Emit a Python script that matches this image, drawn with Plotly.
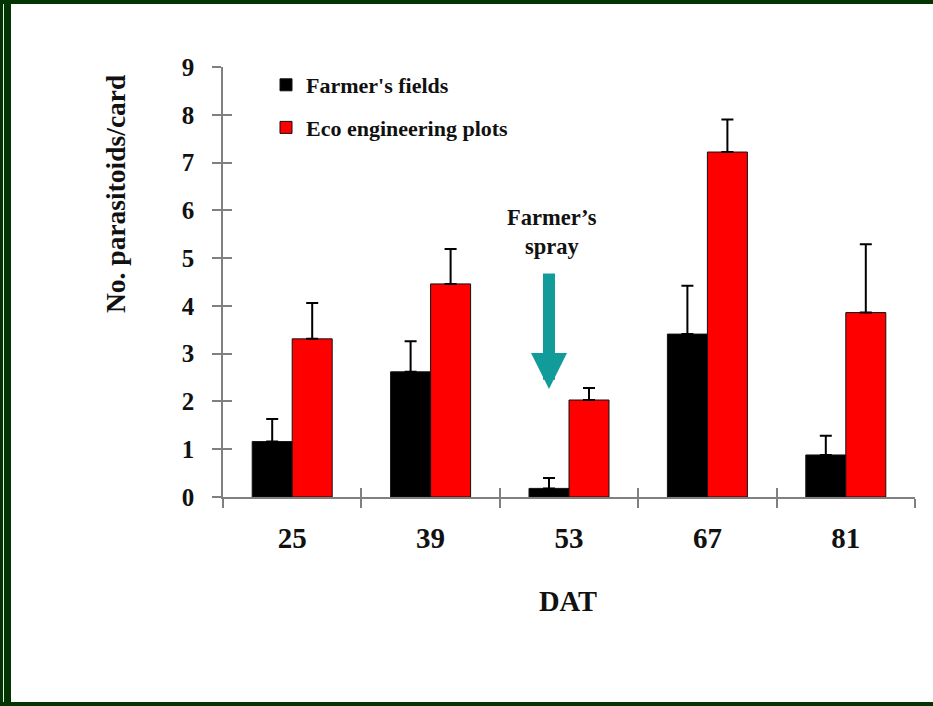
import plotly.graph_objects as go

categories = ["25", "39", "53", "67", "81"]
farmers = [1.16, 2.62, 0.18, 3.41, 0.88]
farmers_err = [0.47, 0.64, 0.22, 1.01, 0.40]
eco = [3.31, 4.46, 2.03, 7.22, 3.86]
eco_err = [0.75, 0.73, 0.25, 0.68, 1.43]
y_ticks = [0, 1, 2, 3, 4, 5, 6, 7, 8, 9]

W, H = 933, 706
L, R, T, B = 223, 915, 67, 497

def px(x):
    return (x - L) / (R - L)

def py(y):
    return (B - y) / (B - T)

FONT = "Liberation Serif, Times New Roman, serif"
GRAY = "#808080"

fig = go.Figure()
fig.add_trace(go.Bar(
    x=categories, y=farmers, name="Farmer's fields",
    marker=dict(color="#000000", line=dict(color="#111111", width=1)),
    error_y=dict(type="data", array=farmers_err, arrayminus=[0] * 5, symmetric=False,
                 color="#000000", thickness=2, width=6),
    legendgroup="a",
))
fig.add_trace(go.Bar(
    x=categories, y=eco, name="Eco engineering plots",
    marker=dict(color="#FF0000", line=dict(color="#111111", width=1)),
    error_y=dict(type="data", array=eco_err, arrayminus=[0] * 5, symmetric=False,
                 color="#000000", thickness=2, width=6),
    legendgroup="b",
))
# invisible trace to carry overlay axes (for ticks crossing the axis line)
fig.add_trace(go.Scatter(
    x=categories, y=farmers, xaxis="x2", yaxis="y2", mode="markers",
    marker=dict(opacity=0), showlegend=False, hoverinfo="skip",
))

fig.update_layout(
    width=W, height=H,
    margin=dict(l=L, r=W - R, t=T, b=H - B, pad=0),
    paper_bgcolor="white", plot_bgcolor="white",
    barmode="group", bargap=0.422, bargroupgap=0,
    font=dict(family=FONT, color="#111111", weight="bold"),
    showlegend=True,
    legend=dict(
        x=px(266), y=py(64), xanchor="left", yanchor="top",
        font=dict(family=FONT, size=22, color="#111111", weight="bold"),
        bgcolor="rgba(0,0,0,0)", tracegroupgap=11, traceorder="grouped",
        itemwidth=30,
    ),
    xaxis=dict(
        type="category", categoryorder="array", categoryarray=categories,
        range=[-0.5, 4.5], showline=True, linecolor=GRAY, linewidth=1.5,
        ticks="outside", ticklen=9, tickwidth=1.5, tickcolor=GRAY,
        tickson="boundaries", showgrid=False, zeroline=False,
        tickfont=dict(family=FONT, size=29, color="#111111", weight="bold"),
        ticklabelstandoff=14,
    ),
    yaxis=dict(
        range=[0, 9], tickvals=y_ticks, showline=True, linecolor=GRAY, linewidth=1.5,
        ticks="outside", ticklen=9, tickwidth=1.5, tickcolor=GRAY,
        showgrid=False, zeroline=False,
        tickfont=dict(family=FONT, size=25, color="#111111", weight="bold"),
        ticklabelstandoff=13,
    ),
    xaxis2=dict(
        type="category", categoryorder="array", categoryarray=categories,
        range=[-0.5, 4.5], overlaying="x", anchor="y2", showline=False,
        ticks="inside", ticklen=9, tickwidth=1.5, tickcolor=GRAY,
        tickson="boundaries", showticklabels=False, showgrid=False, zeroline=False,
    ),
    yaxis2=dict(
        range=[0, 9], tickvals=y_ticks, overlaying="y", anchor="x2", side="left",
        showline=False, ticks="inside", ticklen=9, tickwidth=1.5, tickcolor=GRAY,
        showticklabels=False, showgrid=False, zeroline=False,
    ),
)

# axis titles
fig.add_annotation(
    text="No. parasitoids/card", textangle=-90, xref="paper", yref="paper",
    x=px(116), y=py(194), xanchor="center", yanchor="middle", showarrow=False,
    font=dict(family=FONT, size=27.5, color="#111111", weight="bold"),
)
fig.add_annotation(
    text="DAT", xref="paper", yref="paper", x=px(568), y=py(601),
    xanchor="center", yanchor="middle", showarrow=False,
    font=dict(family=FONT, size=28.5, color="#111111", weight="bold"),
)

# spray annotation and arrow
bar_offset = (1 - 0.422) / 4
spray_x = categories.index("53") - bar_offset
fig.add_annotation(
    text="Farmer\u2019s<br>spray", x=spray_x, y=(B - 232) / ((B - T) / 9), xref="x", yref="y",
    xshift=3, showarrow=False, xanchor="center", yanchor="middle",
    font=dict(family=FONT, size=22.5, color="#111111", weight="bold"),
)
fig.add_annotation(
    text="", x=spray_x, y=(B - 389) / ((B - T) / 9), ax=spray_x, ay=(B - 272) / ((B - T) / 9),
    xref="x", yref="y", axref="x", ayref="y",
    showarrow=True, arrowhead=2, arrowwidth=12, arrowsize=0.6, arrowcolor="#129C99",
)

# dark green frame
GREEN = "#023502"
frame = [
    (0, 0, W, 4),
    (0, 0, 11, H),
    (0, 702, W, H),
]
for x0, y0, x1, y1 in frame:
    fig.add_shape(type="rect", xref="paper", yref="paper",
                  x0=px(x0), x1=px(x1), y0=py(y0), y1=py(y1),
                  fillcolor=GREEN, line=dict(width=0), layer="above")
fig.add_shape(type="rect", xref="paper", yref="paper",
              x0=px(3), x1=px(4), y0=py(4), y1=py(702),
              fillcolor="#e8efe8", line=dict(width=0), layer="above")

fig.write_html("out.html", config={"displayModeBar": False},
               post_script="document.body.style.margin='0';")
